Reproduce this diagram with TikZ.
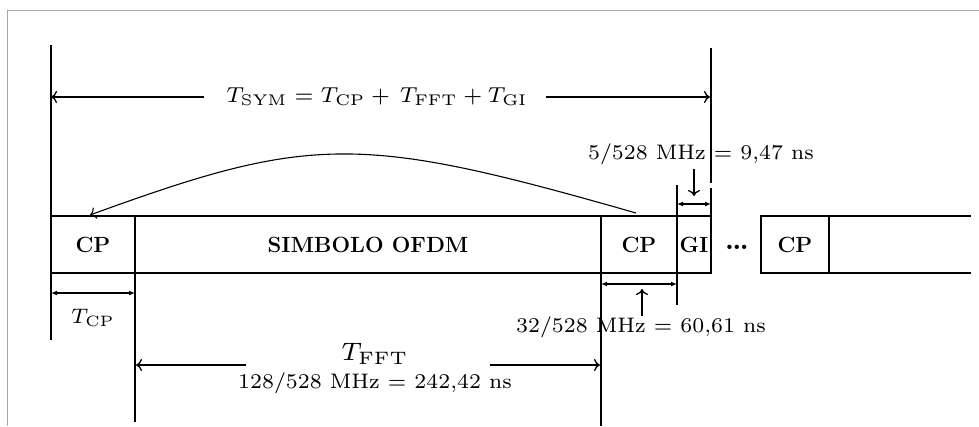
\documentclass[tikz,border=0pt]{standalone}
\usetikzlibrary{arrows.meta}
\begin{document}
\begin{tikzpicture}[x=1pt,y=-1pt,line width=1.3pt,
  box/.style={draw,rectangle,minimum height=57pt,inner sep=0pt,outer sep=0pt,anchor=north west,font=\bfseries\fontsize{22}{26}\selectfont},
  lbl/.style={inner sep=0.5pt,font=\fontsize{7}{8.4}\selectfont,scale=3.0},
  dim/.style={{Latex[length=6pt,width=5pt]}-{Latex[length=6pt,width=5pt]}},
  arr/.style={-{To[length=6pt,width=12pt]}}]
\useasboundingbox (0,0) rectangle (979,426);
\draw[gray!70,line width=1pt] (979,10) -| (7,426);
% boxes
\node[box,minimum width=84pt] (cp1) at (51,216) {CP};
\node[box,minimum width=466pt] (sym) at (135,216) {SIMBOLO OFDM};
\node[box,minimum width=76pt] (cp2) at (601,216) {CP};
\node[box,minimum width=34pt] (gi) at (677,216) {GI};
\node[inner sep=0pt,font=\bfseries\fontsize{30}{34}\selectfont] (dots) at (737,247) {\dots};
\node[box,minimum width=68pt] (cp3) at (761,216) {CP};
\coordinate (e1) at (971,216);
\coordinate (e2) at (971,273);
\draw (cp3.north east) -- (e1);
\draw (cp3.south east) -- (e2);
% vertical lines
\coordinate (v1t) at (51,45);
\coordinate (v1b) at (51,340);
\draw (v1t) -- (v1b);
\coordinate (v2b) at (135,422);
\draw (cp1.south east) -- (v2b);
\coordinate (v3b) at (601,426);
\draw (cp2.south west) -- (v3b);
\coordinate (v4t) at (677,185);
\coordinate (v4b) at (677,305);
\draw (v4t) -- (gi.north west);
\draw (gi.south west) -- (v4b);
\coordinate (v5t) at (711,48);
\coordinate (v5m) at (711,183);
\coordinate (v5n) at (711,188);
\draw (v5t) -- (v5m);
\draw (v5n) -- (gi.north east);
% T_SYM
\node[lbl,scale=1.03] (tsym) at (377,97) {$T_{\mathrm{SYM}} = T_{\mathrm{CP}} +\, T_{\mathrm{FFT}} + T_{\mathrm{GI}}$};
\coordinate (s1) at (204,97);
\coordinate (s2) at (51,97);
\coordinate (s3) at (546,97);
\coordinate (s4) at (710,97);
\draw[arr] (s1) -- (s2);
\draw[arr] (s3) -- (s4);
% curved arrow
\coordinate (c0) at (636,213);
\coordinate (c3) at (90,215);
\draw[arr,line width=1.1pt] (c0) .. controls (360,134) and (312,134) .. (c3);
% GI dimension
\coordinate (g1) at (677,204);
\coordinate (g2) at (711,204);
\draw[dim] (g1) -- (g2);
\node[lbl] (gil) at (701,154) {5/528 MHz $=$ 9,47 ns};
\coordinate (gd1) at (694,169);
\coordinate (gd2) at (694,196);
\draw[arr] (gd1) -- (gd2);
% CP dimension
\coordinate (p1) at (601,284);
\coordinate (p2) at (677,284);
\draw[dim] (p1) -- (p2);
\node[lbl] (cpl) at (641,327) {32/528 MHz $=$ 60,61 ns};
\coordinate (pu1) at (642,316);
\coordinate (pu2) at (642,289);
\draw[arr] (pu1) -- (pu2);
% T_CP dimension
\coordinate (t1) at (51,293);
\coordinate (t2) at (135,293);
\draw[dim] (t1) -- (t2);
\node[lbl] (tcp) at (93,318) {$T_{\mathrm{CP}}$};
% T_FFT
\node[lbl,scale=1.2] (tfft) at (375,354) {$T_{\mathrm{FFT}}$};
\node[lbl] (fftl) at (375,383) {128/528 MHz $=$ 242,42 ns};
\coordinate (f1) at (246,365);
\coordinate (f2) at (136,365);
\coordinate (f3) at (490,365);
\coordinate (f4) at (600,365);
\draw[arr] (f1) -- (f2);
\draw[arr] (f3) -- (f4);
\end{tikzpicture}
\end{document}
